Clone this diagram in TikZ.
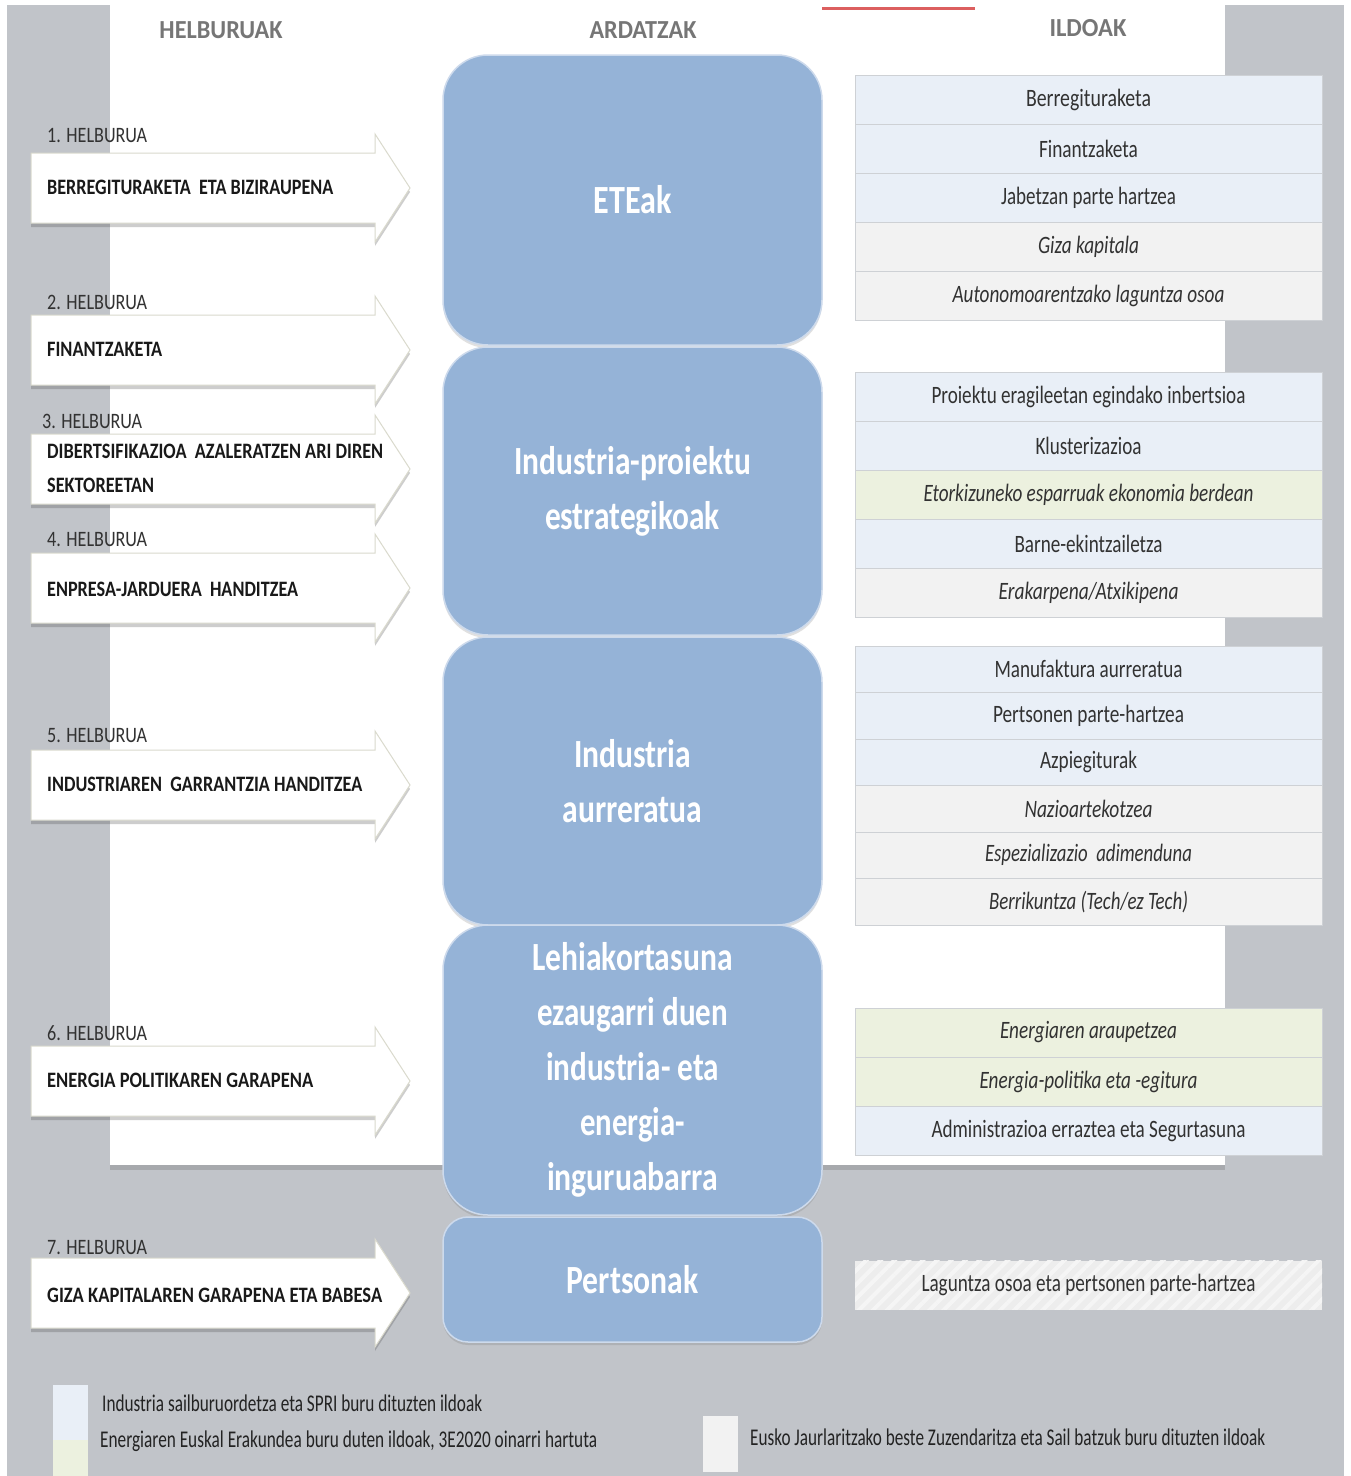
\documentclass[tikz,border=0pt]{standalone}
\usepackage{fontspec}
\setmainfont{Carlito}
\usepackage{graphicx}
\usetikzlibrary{shadows,patterns.meta}

\definecolor{pagegray}{RGB}{193,196,201}
\definecolor{headgray}{RGB}{118,118,118}
\definecolor{goaltext}{RGB}{25,25,25}
\definecolor{labeltext}{RGB}{50,50,50}
\definecolor{arrowline}{RGB}{218,218,205}
\definecolor{axisblue}{RGB}{149,179,215}
\definecolor{axisline}{RGB}{205,218,236}
\definecolor{tblue}{RGB}{233,239,247}
\definecolor{tgrey}{RGB}{242,242,242}
\definecolor{tgreen}{RGB}{236,241,223}
\definecolor{rowline}{RGB}{206,209,213}
\definecolor{rowtext}{RGB}{50,50,50}
\definecolor{legtext}{RGB}{35,35,35}
\definecolor{redline}{RGB}{220,95,95}
\definecolor{hatchbg}{RGB}{237,237,237}
\definecolor{hatchfg}{RGB}{245,245,245}

\newcommand\fx[2]{\resizebox{#1pt}{\height}{#2}}
\newcommand\goalarrow[1]{\path[arrowbody] (31,#1-35) -- (375,#1-35) -- (375,#1-54) -- (410,#1) -- (375,#1+54) -- (375,#1+35) -- (31,#1+35) -- cycle;}

\tikzset{
  arrowbody/.style={fill=white, draw=arrowline, line width=1pt,
    drop shadow={shadow xshift=0pt, shadow yshift=-4pt, opacity=0.28, fill=black!70}},
  goaltxt/.style={anchor=west, inner sep=0pt, font=\fontsize{22}{34}\selectfont\bfseries, text=goaltext, align=left},
  goallabel/.style={anchor=west, inner sep=0pt, font=\fontsize{22}{26}\selectfont, text=labeltext},
  axisbox/.style={fill=axisblue, draw=axisline, line width=1.5pt, rounded corners=45pt,
    minimum width=379pt, text=white, font=\fontsize{40}{55}\selectfont\bfseries, align=center, inner sep=0pt,
    drop shadow={shadow xshift=0pt, shadow yshift=-3pt, opacity=0.2, fill=black!60}},
  ildorow/.style={minimum width=467pt, minimum height=49pt, inner sep=0pt, draw=rowline,
    line width=0.8pt, text=rowtext, font=\fontsize{25}{29}\selectfont},
  colhead/.style={font=\fontsize{26}{30}\selectfont\bfseries, text=headgray, inner sep=0pt},
  legtxt/.style={anchor=west, inner sep=0pt, font=\fontsize{24}{28}\selectfont, text=legtext},
}

\begin{document}
\begin{tikzpicture}[x=1pt,y=-1pt]
\useasboundingbox (0,0) rectangle (1351,1476);
\fill[white] (0,0) rectangle (1351,1476);
\fill[pagegray] (7,5) rectangle (1344,1476);
\fill[white, drop shadow={shadow xshift=0pt, shadow yshift=-5pt, opacity=0.22, fill=black!70}] (110,0) rectangle (1225,1165);
\draw[redline, line width=3pt] (822,8) -- (975,8);

% headers
\node[colhead] (h1) at (221,30) {\fx{123}{HELBURUAK}};
\node[colhead] (h2) at (643,30) {\fx{107}{ARDATZAK}};
\node[colhead] (h3) at (1088,28) {\fx{77}{ILDOAK}};

% goal arrows
\goalarrow{188}
\goalarrow{350}
\goalarrow{469}
\goalarrow{588}
\goalarrow{785}
\goalarrow{1081}
\goalarrow{1293}

\node[goallabel] (l1) at (47,136) {\fx{100}{1. HELBURUA}};
\node[goaltxt] (g1) at (47,187) {\fx{286}{BERREGITURAKETA\ \ ETA BIZIRAUPENA}};
\node[goallabel] (l2) at (47,302) {\fx{100}{2. HELBURUA}};
\node[goaltxt] (g2) at (47,349) {\fx{115}{FINANTZAKETA}};
\node[goallabel] (l3) at (42,421) {\fx{100}{3. HELBURUA}};
\node[goaltxt] (g3) at (47,468) {\fx{336}{DIBERTSIFIKAZIOA\ \ AZALERATZEN ARI DIREN}\\\fx{107}{SEKTOREETAN}};
\node[goallabel] (l4) at (47,540) {\fx{100}{4. HELBURUA}};
\node[goaltxt] (g4) at (47,589) {\fx{251}{ENPRESA-JARDUERA\ \ HANDITZEA}};
\node[goallabel] (l5) at (47,736) {\fx{100}{5. HELBURUA}};
\node[goaltxt] (g5) at (47,784) {\fx{315}{INDUSTRIAREN\ \ GARRANTZIA HANDITZEA}};
\node[goallabel] (l6) at (47,1033) {\fx{100}{6. HELBURUA}};
\node[goaltxt] (g6) at (47,1080) {\fx{266}{ENERGIA POLITIKAREN GARAPENA}};
\node[goallabel] (l7) at (47,1248) {\fx{100}{7. HELBURUA}};
\node[goaltxt] (g7) at (47,1295) {\fx{335}{GIZA KAPITALAREN GARAPENA ETA BABESA}};

% axes
\node[axisbox, minimum height=290pt] (a1) at (632.5,200) {\fx{78}{ETEak}};
\node[axisbox, minimum height=288pt] (a2) at (632.5,491) {\fx{237}{Industria-proiektu}\\\fx{175}{estrategikoak}};
\node[axisbox, minimum height=288pt] (a3) at (632.5,781) {\fx{117}{Industria}\\\fx{140}{aurreratua}};
\node[axisbox, minimum height=290pt] (a4) at (632.5,1070) {\fx{200}{Lehiakortasuna}\\\fx{191}{ezaugarri duen}\\\fx{173}{industria- eta}\\\fx{105}{energia-}\\\fx{171}{inguruabarra}};
\node[axisbox, minimum height=125pt, rounded corners=25pt] (a5) at (632.5,1279.5) {\fx{132}{Pertsonak}};

% table 1
\node[ildorow, fill=tblue] (r11) at (1088.5,99.5) {\fx{125}{Berregituraketa}};
\node[ildorow, fill=tblue] (r12) at (1088.5,148.5) {\fx{99}{Finantzaketa}};
\node[ildorow, fill=tblue] (r13) at (1088.5,197.5) {\fx{175}{Jabetzan parte hartzea}};
\node[ildorow, fill=tgrey] (r14) at (1088.5,246.5) {\fx{101}{\itshape Giza kapitala}};
\node[ildorow, fill=tgrey] (r15) at (1088.5,295.5) {\fx{272}{\itshape Autonomoarentzako laguntza osoa}};

% table 2
\node[ildorow, fill=tblue] (r21) at (1088.5,396.5) {\fx{314}{Proiektu eragileetan egindako inbertsioa}};
\node[ildorow, fill=tblue] (r22) at (1088.5,445.5) {\fx{106}{Klusterizazioa}};
\node[ildorow, fill=tgreen] (r23) at (1088.5,494.5) {\fx{330}{\itshape Etorkizuneko esparruak ekonomia berdean}};
\node[ildorow, fill=tblue] (r24) at (1088.5,543.5) {\fx{148}{Barne-ekintzailetza}};
\node[ildorow, fill=tgrey] (r25) at (1088.5,592.5) {\fx{180}{\itshape Erakarpena/Atxikipena}};

% table 3
\node[ildorow, fill=tblue, minimum height=46.5pt] (r31) at (1088.5,669.25) {\fx{188}{Manufaktura aurreratua}};
\node[ildorow, fill=tblue, minimum height=46.5pt] (r32) at (1088.5,715.75) {\fx{191}{Pertsonen parte-hartzea}};
\node[ildorow, fill=tblue, minimum height=46.5pt] (r33) at (1088.5,762.25) {\fx{97}{Azpiegiturak}};
\node[ildorow, fill=tgrey, minimum height=46.5pt] (r34) at (1088.5,808.75) {\fx{128}{\itshape Nazioartekotzea}};
\node[ildorow, fill=tgrey, minimum height=46.5pt] (r35) at (1088.5,855.25) {\fx{207}{\itshape Espezializazio\ \ adimenduna}};
\node[ildorow, fill=tgrey, minimum height=46.5pt] (r36) at (1088.5,901.75) {\fx{199}{\itshape Berrikuntza (Tech/ez Tech)}};

% table 4
\node[ildorow, fill=tgreen] (r41) at (1088.5,1032.5) {\fx{177}{\itshape Energiaren araupetzea}};
\node[ildorow, fill=tgreen] (r42) at (1088.5,1081.5) {\fx{218}{\itshape Energia-politika eta -egitura}};
\node[ildorow, fill=tblue] (r43) at (1088.5,1130.5) {\fx{314}{Administrazioa erraztea eta Segurtasuna}};

% table 5
\node[ildorow, fill=hatchbg, draw=none,
  postaction={pattern={Lines[angle=45,distance=10pt,line width=4pt]}, pattern color=hatchfg}] (r51) at (1088.5,1285) {\fx{334}{Laguntza osoa eta pertsonen parte-hartzea}};

% legend
\fill[tblue] (53,1385) rectangle (88,1440);
\fill[tgreen] (53,1440) rectangle (88,1476);
\fill[tgrey] (703,1416) rectangle (738,1472);
\node[legtxt] (t1) at (102,1403) {\fx{380}{Industria sailburuordetza eta SPRI buru dituzten ildoak}};
\node[legtxt] (t2) at (100,1441) {\fx{497}{Energiaren Euskal Erakundea buru duten ildoak, 3E2020 oinarri hartuta}};
\node[legtxt] (t3) at (750,1437) {\fx{515}{Eusko Jaurlaritzako beste Zuzendaritza eta Sail batzuk buru dituzten ildoak}};
\end{tikzpicture}
\end{document}
